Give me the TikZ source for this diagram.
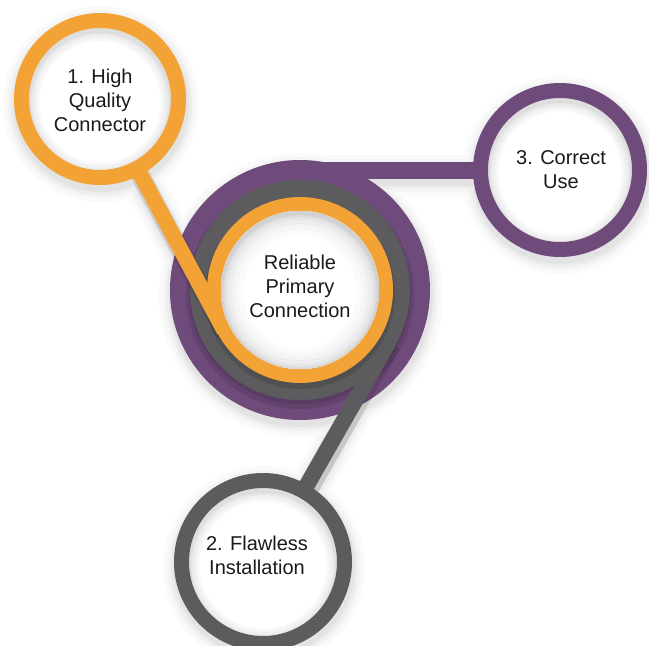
\documentclass[tikz,border=0pt]{standalone}
\usepackage{fontspec}
\setmainfont{Liberation Sans}
\definecolor{orng}{HTML}{F3A335}
\definecolor{purp}{HTML}{6F4B7B}
\definecolor{gry}{HTML}{5C5C5E}
\definecolor{txt}{HTML}{1A1A1A}
\newcommand\innershade[2]{%
  \begin{scope}
    \clip (#1) circle[radius=#2pt];
    \foreach \k/\col in {10/black!3,7/black!6,4/black!9,2/black!13}{
      \draw[\col, line width=40pt] ([yshift=-3pt]#1) circle[radius={(#2-\k+20)*1pt}];
    }
  \end{scope}}
\newcommand\centreshade[2]{%
  \begin{scope}
    \clip (#1) circle[radius=#2pt];
    \foreach \k/\col in {22/black!2,16/black!4,11/black!7,7/black!10,4/black!14,2/black!18}{
      \draw[\col, line width=40pt] ([yshift=-2pt]#1) circle[radius={(#2-\k+20)*1pt}];
    }
  \end{scope}}
\newcommand\dropshadow[2]{%
  \fill[#2] ([xshift=1pt,yshift=-5pt]c1) circle[radius={(86+#1)*1pt}];
  \fill[#2] ([xshift=1pt,yshift=-5pt]c2) circle[radius={(89+#1)*1pt}];
  \fill[#2] ([xshift=1pt,yshift=-5pt]c3) circle[radius={(87+#1)*1pt}];
  \fill[#2] ([xshift=1pt,yshift=-5pt]cc) circle[radius={(130+#1)*1pt}];
  \draw[#2, line width={(15+2*#1)*1pt}] ([xshift=1pt,yshift=-5pt]c1) -- ([xshift=1pt,yshift=-5pt]t1);
  \draw[#2, line width={(16+2*#1)*1pt}] ([xshift=1pt,yshift=-5pt]c2) -- ([xshift=1pt,yshift=-5pt]t2);
  \draw[#2, line width={(17+2*#1)*1pt}] ([xshift=1pt,yshift=-5pt]c3) -- ([xshift=1pt,yshift=-5pt]t3);
}
\tikzset{
  lbl/.style={align=center, text=txt, font=\fontsize{20}{24}\selectfont, inner sep=0pt},
}
\begin{document}
\begin{tikzpicture}[x=1pt,y=-1pt]
\useasboundingbox (0,0) rectangle (649,646);
\fill[white] (0,0) rectangle (649,646);
% key points
\coordinate (cc) at (300,290);
\coordinate (c1) at (100,99);
\coordinate (c2) at (263,562);
\coordinate (c3) at (560,170);
\coordinate (t1) at (224.2,330.6);
\coordinate (t2) at (389.3,340.8);
\coordinate (t3) at (300,170);
% soft drop shadows
\dropshadow{12}{black!2}
\dropshadow{8}{black!4}
\dropshadow{5}{black!7}
\dropshadow{2}{black!11}
% purple layer
\fill[purp] (cc) circle[radius=130pt];
\draw[purp, line width=17pt] (c3) -- (t3);
% shadow of gray layer on purple
\fill[black, opacity=0.10] ([yshift=-5pt]cc) circle[radius=114pt];
\fill[black, opacity=0.10] ([yshift=-3pt]cc) circle[radius=111pt];
% gray layer
\fill[gry] (cc) circle[radius=110pt];
\draw[black, opacity=0.12, line width=20pt] ([xshift=2pt,yshift=-3pt]c2) -- ([xshift=2pt,yshift=-3pt]t2);
\draw[gry, line width=16pt] (c2) -- (t2);
% orange layer
\fill[black, opacity=0.12] ([yshift=-4pt]cc) circle[radius=95pt];
\draw[black, opacity=0.10, line width=19pt] ([xshift=1pt,yshift=-3pt]c1) -- ([xshift=1pt,yshift=-3pt]t1);
\fill[orng] (cc) circle[radius=93pt];
\draw[orng, line width=15.5pt] (c1) -- (t1);
% centre
\fill[white] (cc) circle[radius=79pt];
\centreshade{cc}{79}
\node[lbl] (center) at (300,286) {Reliable\\Primary\\Connection};
% satellite 1
\fill[white] (c1) circle[radius=71pt];
\innershade{c1}{71}
\draw[orng, line width=15pt] (c1) circle[radius=78.5pt];
\node[lbl] (n1) at (100,100) {1. High\\Quality\\Connector};
% satellite 2
\fill[white] (c2) circle[radius=74pt];
\innershade{c2}{74}
\draw[gry, line width=15pt] (c2) circle[radius=81.5pt];
\node[lbl] (n2) at (257,555) {2. Flawless\\Installation};
% satellite 3
\fill[white] (c3) circle[radius=72pt];
\innershade{c3}{72}
\draw[purp, line width=15pt] (c3) circle[radius=79.5pt];
\node[lbl] (n3) at (561,170) {3. Correct\\Use};
\end{tikzpicture}
\end{document}
